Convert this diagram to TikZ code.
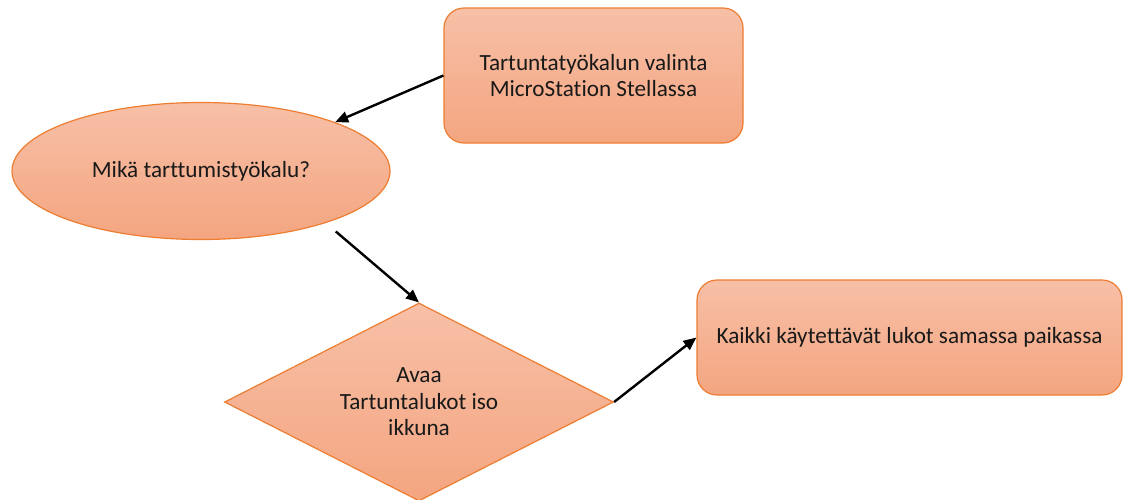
\documentclass[tikz,border=0pt]{standalone}
\usepackage{fontspec}
\setmainfont{Carlito}[Ligatures=NoCommon]
\definecolor{boxtop}{RGB}{247,192,167}
\definecolor{boxbot}{RGB}{244,165,128}
\definecolor{boxline}{RGB}{237,125,49}
\definecolor{boxtext}{RGB}{25,25,25}
\usetikzlibrary{arrows.meta,shapes.geometric}

\begin{document}
\begin{tikzpicture}[x=0.5pt,y=-0.5pt,
  flow/.style={draw=boxline,line width=0.6pt,top color=boxtop,bottom color=boxbot,
    text=boxtext,font=\fontsize{11.6}{13.3}\selectfont,align=center,inner sep=0pt},
  roundbox/.style={flow,rectangle,rounded corners=10pt},
  link/.style={-{Triangle[length=6.5pt,width=5.5pt]},line width=1.2pt,black}]
  \useasboundingbox (0,0) rectangle (1123,499);

  %% Start: choosing the snap tool
  \node[roundbox,minimum width=149.5pt,minimum height=67.5pt] (valinta) at (593.5,75.5)
    {Tartuntatyökalun valinta\\MicroStation Stellassa};

  %% Question
  \node[flow,ellipse,minimum width=189pt,minimum height=68.5pt] (mika) at (201,171)
    {Mikä tarttumistyökalu?};

  %% Decision
  \node[flow,diamond,aspect=2,minimum width=194.5pt,minimum height=99pt] (avaa) at (419,402)
    {Avaa\\Tartuntalukot iso\\ikkuna};

  %% Result
  \node[roundbox,minimum width=212.5pt,minimum height=57.5pt] (kaikki) at (909.5,337.5)
    {Kaikki käytettävät lukot samassa paikassa};

  %% Connectors
  \draw[link] (valinta.west) -- (mika.20);
  \draw[link] ([xshift=9pt,yshift=-3pt]mika.-25) -- (avaa.north);
  \draw[link] (avaa.east) -- (kaikki.west);
\end{tikzpicture}
\end{document}
